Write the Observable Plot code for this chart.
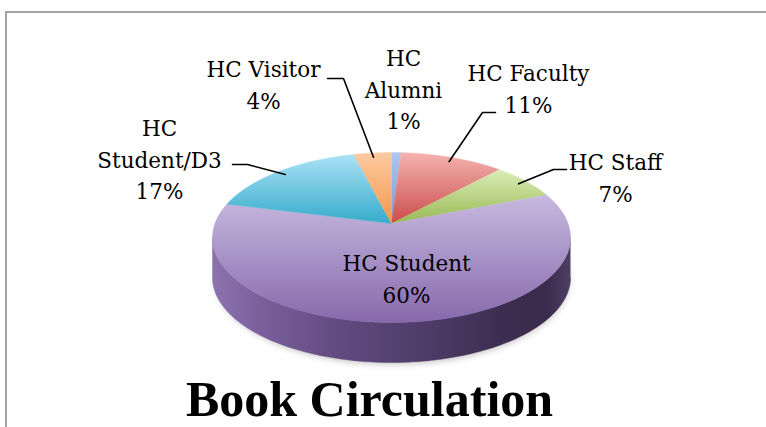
<!DOCTYPE html>
<html>
<head>
<meta charset="utf-8">
<script src="https://cdn.jsdelivr.net/npm/d3@7"></script>
<script src="https://cdn.jsdelivr.net/npm/@observablehq/plot@0.6"></script>
<style>
  html, body { margin: 0; padding: 0; background: #fff; }
  #wrap { position: relative; width: 766px; height: 427px; overflow: hidden; }
  #frame { position: absolute; left: 5px; top: 11px; width: 770px; height: 430px;
           border-top: 2px solid #a3a3a3; border-left: 2px solid #a3a3a3; box-sizing: border-box; }
  #wrap svg { position: absolute; left: 0; top: 0; }
</style>
</head>
<body>
<div id="wrap"><div id="frame"></div></div>
<script>
// ---- data ----
const categories = ["HC Alumni", "HC Faculty", "HC Staff", "HC Student", "HC Student/D3", "HC Visitor"];
const shares = [1, 11, 7, 60, 17, 4];
const title = "Book Circulation";

// ---- styles ----
const topColors = ["#adc7ee", "#f4b3b1", "#dbedb6", "#c7b9df", "#abe2f6", "#fbcaa2"];
const bottomColors = ["#779cd5", "#cb4d4a", "#98b955", "#8769ac", "#36abcb", "#f5974a"];

// ---- layout (pixels) ----
const W = 766, H = 427;
const cx = 391, cy = 237, rx = 179, ry = 85, depth = 40, apexDy = -14, warpDeg = 9;
// label anchor: [centre x, top y, wrap name]
const labelLayout = [[403, 43, true], [528, 58, false], [615, 147, false], [406, 248, false], [159, 113, true], [263, 54, false]];
// leader elbow points near the label (null = no leader)
const leaderLayout = [null, [[495, 112], [482, 112]], [[566, 169], [553, 169]], null, [[232, 164], [247, 164]], [[327, 78], [343, 78]]];

const rad = Math.PI / 180;
const total = d3.sum(shares);
const warp = t => t - warpDeg * Math.sin(t * rad);
const ellipsePt = (deg, k = 1, dy = 0) => {
  const p = warp(deg) * rad;
  return {x: cx + k * rx * Math.sin(p), y: cy + dy - k * ry * Math.cos(p)};
};

// slices
let cum = 0;
const slices = shares.map((v, i) => {
  const a0 = cum / total * 360; cum += v; const a1 = cum / total * 360;
  const pts = [{x: cx, y: cy + apexDy}];
  const n = Math.max(4, Math.ceil((a1 - a0) / 0.5));
  for (let j = 0; j <= n; j++) pts.push(ellipsePt(a0 + (a1 - a0) * j / n));
  pts.push({x: cx, y: cy + apexDy});
  return {i, a0, a1, mid: (a0 + a1) / 2, pts};
});

// visible side (front half of the cylinder)
const side = [];
for (let d = 90; d <= 270; d += 1) { const p = d * rad; side.push({x: cx + rx * Math.sin(p), y: cy - ry * Math.cos(p)}); }
for (let d = 270; d >= 90; d -= 1) { const p = d * rad; side.push({x: cx + rx * Math.sin(p), y: cy + depth - ry * Math.cos(p)}); }

const shadow = [];
for (let d = 60; d <= 300; d += 2) { const p = d * rad; shadow.push({x: cx + 1 + (rx - 2) * Math.sin(p), y: cy + depth + 3 - (ry - 1) * Math.cos(p)}); }

// labels
const labels = categories.map((c, i) => ({
  x: labelLayout[i][0], y: labelLayout[i][1],
  text: (labelLayout[i][2] ? c.replace(" ", "\n") : c) + "\n" + shares[i] + "%"
}));

// leaders
const leaders = [];
slices.forEach(s => {
  const L = leaderLayout[s.i];
  if (!L) return;
  const start = ellipsePt(s.mid, 0.95);
  leaders.push({g: s.i, x: L[0][0], y: L[0][1]}, {g: s.i, x: L[1][0], y: L[1][1]}, {g: s.i, x: start.x, y: start.y});
});

const marks = [
  Plot.line(shadow, {x: "x", y: "y", fill: "#9a9a9a", stroke: "none", fillOpacity: 0.55, ariaDescription: "shadow"}),
  Plot.line(side, {x: "x", y: "y", fill: "url(#sideGrad)", stroke: "url(#sideGrad)", strokeWidth: 0.5}),
  ...slices.map(s => Plot.line(s.pts, {x: "x", y: "y", fill: `url(#g${s.i})`, stroke: `url(#g${s.i})`, strokeWidth: 0.4})),
  Plot.line(leaders, {x: "x", y: "y", z: "g", stroke: "#000", strokeWidth: 1.6}),
  Plot.text(labels, {x: "x", y: "y", text: "text", lineAnchor: "top", lineHeight: 1.47, fontSize: 21.5,
    fontFamily: "DejaVu Serif", fill: "#000", textAnchor: "middle"}),
  Plot.text([title], {x: () => 369, y: () => 415, text: d => d, lineAnchor: "bottom", fontSize: 50,
    fontWeight: "bold", fontFamily: "Liberation Serif", fill: "#000", textAnchor: "middle"})
];

const chart = Plot.plot({
  width: W, height: H, margin: 0,
  x: {domain: [0, W], range: [0, W], axis: null},
  y: {domain: [0, H], range: [0, H], axis: null},
  style: {background: "transparent"},
  marks
});

// gradients & shadow blur
const svg = d3.select(chart);
const defs = svg.insert("defs", ":first-child");
topColors.forEach((c, i) => {
  const g = defs.append("linearGradient").attr("id", `g${i}`).attr("x1", 0).attr("y1", 0).attr("x2", 0).attr("y2", 1);
  g.append("stop").attr("offset", 0).attr("stop-color", c);
  g.append("stop").attr("offset", 1).attr("stop-color", bottomColors[i]);
});
const sg = defs.append("linearGradient").attr("id", "sideGrad").attr("x1", 0).attr("y1", 0).attr("x2", 1).attr("y2", 0);
[[0, "#8c73ae"], [0.12, "#7c619e"], [0.35, "#624b80"], [0.55, "#523f6d"], [0.8, "#3d2e51"], [0.93, "#3a2b4c"], [1, "#4e3e64"]]
  .forEach(([o, c]) => sg.append("stop").attr("offset", o).attr("stop-color", c));
const f = defs.append("filter").attr("id", "blur").attr("x", "-10%").attr("y", "-10%").attr("width", "120%").attr("height", "130%");
f.append("feGaussianBlur").attr("stdDeviation", 3);
svg.select('[aria-description="shadow"]').attr("filter", "url(#blur)");

document.getElementById("wrap").appendChild(chart);
</script>
</body>
</html>
